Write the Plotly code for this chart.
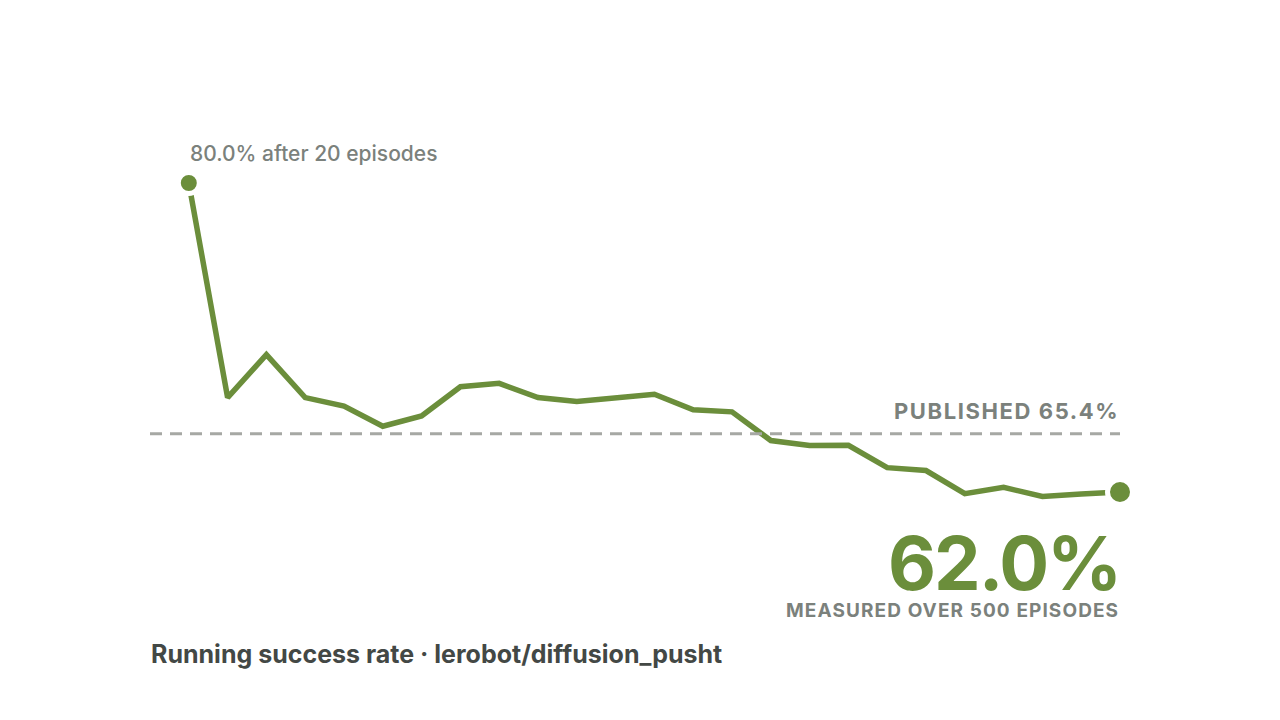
import plotly.graph_objects as go

episodes = [20, 40, 60, 80, 100, 120, 140, 160, 180, 200, 220, 240, 260,
            280, 300, 320, 340, 360, 380, 400, 420, 440, 460, 480, 500]
success_rate = [80.0, 67.5, 70.0, 67.5, 67.0, 65.83, 66.43, 68.13, 68.33, 67.5,
                67.27, 67.5, 67.69, 66.79, 66.67, 65.0, 64.71, 64.72, 63.42,
                63.25, 61.9, 62.27, 61.74, 61.88, 62.0]
published = 65.4
title_text = "Running success rate \u00b7 lerobot/diffusion_pusht"

green = "#6b8e3b"
grey = "#7b817c"
font = "Inter"

fig = go.Figure()

# published reference line
fig.add_shape(type="line", xref="paper", yref="y", x0=0, x1=1, y0=published, y1=published,
              line=dict(color="#a6a8a4", width=3, dash="12px,8px"))

fig.add_trace(go.Scatter(x=episodes, y=success_rate, mode="lines", cliponaxis=False,
                         line=dict(color=green, width=5.5), hoverinfo="skip"))
# first / last point, white ring leaves a small gap to the line
fig.add_trace(go.Scatter(x=[episodes[0], episodes[-1]], y=[success_rate[0], success_rate[-1]],
                         mode="markers", cliponaxis=False,
                         marker=dict(color=green, size=[21, 25], opacity=1,
                                     line=dict(color="white", width=5)),
                         hoverinfo="skip"))

ann = []
ann.append(dict(text=f"{success_rate[0]:.1f}% after {episodes[0]} episodes", xref="paper", yref="paper",
                x=0.039, y=0.894, xanchor="left", yanchor="middle", showarrow=False,
                font=dict(family=font, size=21, color=grey, weight=500)))
ann.append(dict(text=f"<span style='letter-spacing:1.6px'>PUBLISHED {published}%</span>",
                xref="paper", yref="paper",
                x=1, y=0.378, xanchor="right", yanchor="middle", showarrow=False, xshift=1,
                font=dict(family=font, size=22, color=grey, weight=700)))
ann.append(dict(text=f"<span style='letter-spacing:-2px'>{success_rate[-1]:.1f}%</span>",
                xref="paper", yref="paper",
                x=1, y=0.074, xanchor="right", yanchor="middle", showarrow=False, xshift=2,
                font=dict(family=font, size=74, color=green, weight=700)))
ann.append(dict(text=f"<span style='letter-spacing:1.1px'>MEASURED OVER {episodes[-1]} EPISODES</span>",
                xref="paper", yref="paper",
                x=1, y=-0.02, xanchor="right", yanchor="middle", showarrow=False, xshift=1,
                font=dict(family=font, size=19, color=grey, weight=700)))
ann.append(dict(text=title_text, xref="paper", yref="paper",
                x=0, y=-0.108, xanchor="left", yanchor="middle", showarrow=False, xshift=-1,
                font=dict(family=font, size=25, color="#434845", weight=700)))

# page body has an 8px margin, so the margins are shifted to keep the plot where it should be
fig.update_layout(
    width=1280, height=720,
    margin=dict(l=142, r=168, t=92, b=128),
    paper_bgcolor="white", plot_bgcolor="white",
    showlegend=False,
    xaxis=dict(range=[0, 500], visible=False),
    yaxis=dict(range=[55.709, 84.835], visible=False),
    annotations=ann,
)

fig.write_html("out.html")
